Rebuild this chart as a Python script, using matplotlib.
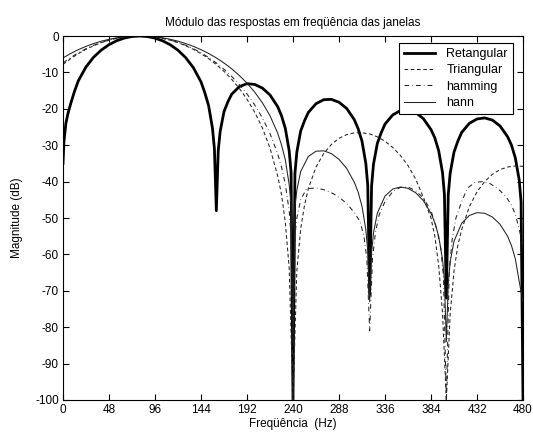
import matplotlib
matplotlib.use("Agg")
import matplotlib.pyplot as plt

# ---------------- data ----------------
f_ret = [0, 1, 3, 5, 8, 12, 16, 24, 32, 40, 48, 56, 64, 72, 80, 88, 96, 104, 112, 120,
         128, 136, 144, 148, 152, 156, 158, 160, 162, 164, 168, 172, 176, 184, 192, 200,
         208, 216, 224, 228, 232, 236, 238, 240, 242, 244, 248, 252, 256, 264, 272, 280,
         288, 296, 304, 308, 312, 316, 318, 320, 322, 324, 328, 332, 336, 344, 352, 360,
         368, 376, 384, 388, 392, 396, 398, 400, 402, 404, 408, 412, 416, 424, 432, 440,
         448, 456, 464, 468, 472, 476, 478, 480]
mag_ret = [-35, -29, -24, -21.5, -18.6, -15.2, -12.3, -8.5, -5.8, -3.85, -2.38, -1.3, -0.57,
           -0.14, 0, -0.14, -0.58, -1.33, -2.42, -3.92, -5.94, -8.69, -12.6, -15.6, -19.2,
           -25.4, -31, -48, -31.5, -26.2, -20.8, -18.1, -16.0, -13.9, -13.1, -13.3, -14.3,
           -16.2, -19.4, -21.9, -25.4, -31.5, -37.5, -100, -37.8, -31.9, -26.1, -23.3, -21.0,
           -18.6, -17.5, -17.4, -18.2, -19.9, -23.0, -25.5, -28.9, -35, -41, -71, -41.2,
           -35.2, -29.5, -26.6, -24.2, -21.7, -20.5, -20.3, -21.0, -22.7, -25.7, -28, -31.5,
           -37.5, -43.5, -72, -43.6, -37.7, -31.9, -28.9, -26.5, -24.0, -22.8, -22.5, -23.1,
           -24.7, -27.7, -30, -33.5, -39.5, -45.5, -100]

f_tri = [0, 8, 16, 24, 32, 40, 48, 56, 64, 72, 80, 88, 96, 104, 112, 120, 128, 136, 144,
         152, 160, 168, 176, 184, 192, 200, 208, 216, 224, 228, 232, 236, 240, 244, 248,
         252, 256, 264, 272, 280, 288, 296, 304, 312, 320, 328, 336, 344, 352, 360, 368,
         376, 384, 388, 392, 396, 400, 404, 408, 412, 416, 424, 432, 440, 448, 456, 464,
         472, 480]
mag_tri = [-7.8, -6.23, -4.84, -3.65, -2.66, -1.83, -1.16, -0.65, -0.28, -0.07, 0, -0.07,
           -0.28, -0.65, -1.16, -1.83, -2.66, -3.65, -4.84, -6.23, -7.84, -9.72, -11.88,
           -14.4, -17.38, -20.9, -25.2, -30.8, -38.4, -43.5, -51.2, -63.7, -100, -64.5, -53.0,
           -46.5, -41.9, -36.0, -32.3, -29.8, -28.1, -27.1, -26.6, -26.6, -26.9, -27.7, -28.9,
           -30.6, -32.8, -35.6, -39.3, -44.3, -50.0, -55, -63, -76, -100, -76.4, -64.6, -57.5,
           -53.2, -46.9, -42.8, -40.0, -38.0, -36.7, -36.0, -35.7, -35.8]

f_ham = [0, 8, 16, 24, 32, 40, 48, 56, 64, 72, 80, 88, 96, 104, 112, 120, 128, 136, 144,
         152, 160, 168, 176, 184, 192, 200, 208, 216, 224, 228, 232, 236, 238, 240, 242,
         244, 248, 254, 264, 273, 282, 289, 296, 304, 310, 314, 317, 320, 323, 326, 330,
         336, 344, 352, 360, 368, 376, 384, 390, 394, 397, 400, 403, 406, 410, 416, 422,
         430, 438, 446, 454, 462, 468, 472, 476, 480]
mag_ham = [-7.41, -5.91, -4.61, -3.49, -2.54, -1.75, -1.11, -0.62, -0.28, -0.07, 0, -0.07,
           -0.28, -0.62, -1.11, -1.75, -2.54, -3.49, -4.61, -5.91, -7.41, -9.13, -11.1,
           -13.34, -15.92, -18.93, -22.47, -26.78, -32.35, -36, -40.7, -48.0, -55, -100, -55,
           -50, -45, -42, -41.7, -42.3, -43.3, -44.5, -46, -48.5, -51, -55, -61, -81, -61,
           -54, -49, -45.5, -42.8, -41.6, -41.5, -42.5, -44.5, -48, -53, -58, -66, -100, -65,
           -56, -50, -45.5, -41.8, -40.2, -40, -40.6, -42, -44, -46.5, -49, -53, -58]

f_hann = [0, 8, 16, 24, 32, 40, 48, 56, 64, 72, 80, 88, 96, 104, 112, 120, 128, 136, 144,
          152, 160, 168, 176, 184, 192, 200, 208, 216, 224, 228, 232, 236, 238, 240, 242,
          244, 248, 256, 264, 272, 280, 288, 296, 304, 308, 312, 316, 318, 320, 322, 324,
          328, 336, 344, 352, 360, 368, 376, 384, 388, 392, 396, 398, 400, 402, 404, 408,
          416, 424, 432, 440, 448, 456, 464, 468, 472, 476, 480]
mag_hann = [-6.02, -4.8, -3.75, -2.84, -2.07, -1.42, -0.91, -0.51, -0.22, -0.06, 0, -0.06,
            -0.22, -0.51, -0.91, -1.42, -2.07, -2.84, -3.75, -4.8, -6.02, -7.42, -9.01,
            -10.84, -12.94, -15.4, -18.32, -21.92, -26.67, -29.9, -34.05, -40.8, -46, -84,
            -47, -42.4, -37.24, -33.09, -31.66, -31.54, -32.31, -33.89, -36.38, -40.2, -42.9,
            -46.8, -53.2, -59, -73, -59.5, -54.1, -48.67, -43.97, -42.06, -41.48, -41.85,
            -43.06, -45.22, -48.72, -51.3, -55.0, -61.3, -67, -84, -68, -62, -56.4, -51.45,
            -49.31, -48.53, -48.7, -49.72, -51.71, -55.05, -57.6, -61.2, -67.4, -73]

labels = ["Retangular", "Triangular", "hamming", "hann"]
xticks = [0, 48, 96, 144, 192, 240, 288, 336, 384, 432, 480]
yticks = [0, -10, -20, -30, -40, -50, -60, -70, -80, -90, -100]

# ---------------- figure ----------------
plt.rcParams['font.family'] = ['Liberation Sans', 'DejaVu Sans']
fig = plt.figure(figsize=(5.33, 4.37), dpi=100)
fig.patch.set_facecolor('white')
ax = fig.add_axes([63 / 533, 1 - 400 / 437, 460 / 533, 364 / 437])

ax.plot(f_ret, mag_ret, color='black', lw=2.0, ls='-', label=labels[0])
ax.plot(f_tri, mag_tri, color='#222222', lw=0.75, ls=(0, (3.5, 2.5)), label=labels[1])
ax.plot(f_ham, mag_ham, color='#222222', lw=0.75, ls=(0, (4.5, 3, 0.6, 3)), label=labels[2])
ax.plot(f_hann, mag_hann, color='#222222', lw=0.75, ls='-', label=labels[3])

ax.set_xlim(0, 480)
ax.set_ylim(-100, 0)
ax.set_xticks(xticks)
ax.set_yticks(yticks)
ax.set_xticklabels([str(t) for t in xticks])
ax.set_yticklabels([str(t) for t in yticks])
ax.tick_params(direction='in', top=True, right=True, length=4, width=0.8,
               labelsize=8.5, pad=3)
for s in ax.spines.values():
    s.set_linewidth(0.8)
    s.set_color('black')

ax.set_title("Módulo das respostas em freqüência das janelas", fontsize=8.5, pad=7)
ax.set_xlabel("Freqüência  (Hz)", fontsize=8.5, labelpad=1)
ax.set_ylabel("Magnitude (dB)", fontsize=8.5, labelpad=9)

leg = ax.legend(loc='upper right', bbox_to_anchor=(0.978, 0.981), borderaxespad=0,
                fontsize=9, frameon=True, fancybox=False,
                framealpha=1, edgecolor='black', handlelength=2.5, handletextpad=0.9,
                borderpad=0.4, labelspacing=0.35)
leg.get_frame().set_linewidth(0.8)

fig.savefig("out.png", dpi=100, facecolor='white')
